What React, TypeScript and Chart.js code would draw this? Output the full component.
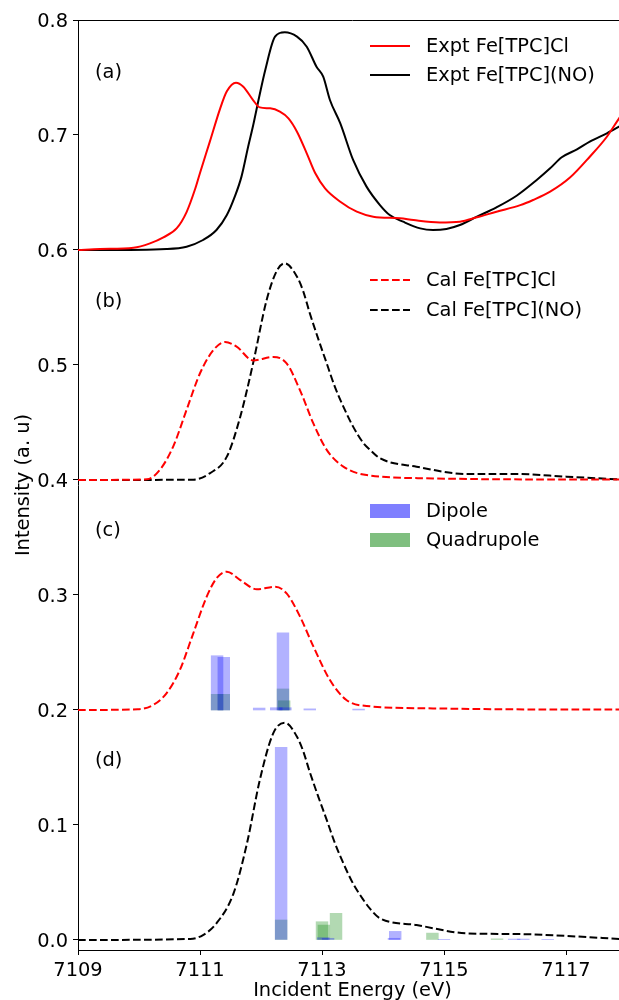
import React, { useEffect, useRef } from "react";
import { Chart, registerables } from "chart.js";
Chart.register(...registerables);

// ---------- data ----------
const exptClE = [7109, 7109.36, 7109.91, 7110.18, 7110.4, 7110.62, 7110.78, 7110.92, 7111.0, 7111.16, 7111.33, 7111.44, 7111.59, 7111.71, 7111.87, 7111.98, 7112.15, 7112.31, 7112.45, 7112.59, 7112.75, 7112.89, 7113.05, 7113.3, 7113.57, 7113.84, 7114.28, 7114.5, 7114.93, 7115.26, 7115.54, 7115.86, 7116.25, 7116.46, 7116.74, 7117.07, 7117.39, 7117.67, 7117.87, 7118];
const exptClI = [0.6, 0.6009, 0.602, 0.6058, 0.611, 0.619, 0.633, 0.653, 0.667, 0.694, 0.723, 0.738, 0.7455, 0.742, 0.7304, 0.724, 0.7232, 0.7203, 0.7145, 0.7029, 0.6841, 0.6667, 0.6536, 0.642, 0.6333, 0.629, 0.6276, 0.626, 0.624, 0.6246, 0.6284, 0.6333, 0.639, 0.6435, 0.6507, 0.6632, 0.6811, 0.6985, 0.7145, 0.724];

const exptNOE = [7109, 7109.36, 7110.45, 7110.78, 7111.05, 7111.27, 7111.44, 7111.57, 7111.68, 7111.79, 7111.87, 7111.97, 7112.07, 7112.23, 7112.39, 7112.59, 7112.75, 7112.91, 7113.02, 7113.13, 7113.3, 7113.51, 7113.73, 7113.95, 7114.11, 7114.33, 7114.61, 7114.82, 7115.04, 7115.26, 7115.54, 7115.86, 7116.19, 7116.52, 7116.74, 7116.93, 7117.18, 7117.39, 7117.67, 7117.87, 7118];
const exptNOI = [0.6, 0.6, 0.6009, 0.6029, 0.6087, 0.6174, 0.6304, 0.6464, 0.6638, 0.69, 0.708, 0.733, 0.7565, 0.7855, 0.7893, 0.7855, 0.7768, 0.7594, 0.7507, 0.7304, 0.7101, 0.6783, 0.6551, 0.6391, 0.6304, 0.6246, 0.6188, 0.6174, 0.6183, 0.6217, 0.629, 0.6371, 0.6472, 0.6609, 0.671, 0.6806, 0.6875, 0.6942, 0.7015, 0.7072, 0.711];

const calClBE = [7109, 7110.13, 7110.34, 7110.56, 7110.78, 7111.0, 7111.22, 7111.41, 7111.6, 7111.87, 7112.2, 7112.42, 7112.64, 7112.86, 7113.08, 7113.35, 7113.73, 7114.82, 7116, 7118];
const calClBI = [0.4, 0.4006, 0.4087, 0.429, 0.461, 0.4928, 0.513, 0.52, 0.516, 0.504, 0.507, 0.5014, 0.478, 0.449, 0.426, 0.4116, 0.4043, 0.4014, 0.4006, 0.4004];

const calNOBE = [7109, 7110.89, 7111.16, 7111.44, 7111.66, 7111.87, 7112.09, 7112.26, 7112.39, 7112.59, 7112.69, 7112.8, 7112.94, 7113.08, 7113.21, 7113.35, 7113.51, 7113.68, 7113.79, 7113.95, 7114.55, 7115.37, 7116.19, 7117.01, 7117.87, 7118];
const calNOBI = [0.4, 0.4003, 0.4058, 0.4203, 0.455, 0.5014, 0.556, 0.582, 0.5884, 0.5768, 0.5645, 0.545, 0.5225, 0.501, 0.4812, 0.4638, 0.4464, 0.432, 0.4261, 0.4189, 0.4116, 0.4052, 0.4052, 0.4029, 0.4006, 0.4004];

const calClCE = [7109, 7109.98, 7110.23, 7110.45, 7110.67, 7110.89, 7111.11, 7111.27, 7111.44, 7111.66, 7111.93, 7112.23, 7112.42, 7112.64, 7112.86, 7113.13, 7113.4, 7113.73, 7114.82, 7116, 7118];
const calClCI = [0.2, 0.2006, 0.2043, 0.2145, 0.2348, 0.2667, 0.2986, 0.3145, 0.3203, 0.313, 0.305, 0.3072, 0.3014, 0.2812, 0.2551, 0.226, 0.2087, 0.2035, 0.2014, 0.2006, 0.2004];

const calNODE = [7109, 7110.84, 7111.05, 7111.27, 7111.55, 7111.77, 7111.98, 7112.2, 7112.39, 7112.59, 7112.69, 7112.8, 7112.94, 7113.08, 7113.21, 7113.35, 7113.51, 7113.68, 7113.79, 7113.95, 7114.55, 7115.37, 7116.19, 7117.01, 7117.87, 7118];
const calNODI = [0.0, 0.0009, 0.0043, 0.0145, 0.0406, 0.084, 0.139, 0.1797, 0.189, 0.1768, 0.1645, 0.146, 0.1245, 0.104, 0.0845, 0.0667, 0.049, 0.0348, 0.027, 0.0189, 0.013, 0.0058, 0.0052, 0.0035, 0.0009, 0.0005];

// stick spectra (transition energies and heights above panel baseline)
const BASE_C = 0.2;
const BASE_D = 0.0;
const dipoleCE = [7111.28, 7111.39, 7111.97, 7112.25, 7112.4, 7112.36, 7112.8, 7113.6];
const dipoleCH = [0.0472, 0.0458, 0.0017, 0.002, 0.002, 0.067, 0.001, 0.0008];
const quadCE = [7111.28, 7111.39, 7112.36, 7112.38];
const quadCH = [0.0136, 0.0136, 0.0183, 0.008];

const dipoleDE = [7112.33, 7113.02, 7113.1, 7114.2, 7114.18, 7115.0, 7116.15, 7116.3, 7116.7];
const dipoleDH = [0.1676, 0.002, 0.0015, 0.0075, 0.0015, 0.0006, 0.0008, 0.0008, 0.0006];
const quadDE = [7112.33, 7113.0, 7113.03, 7113.23, 7114.81, 7115.87];
const quadDH = [0.0174, 0.0159, 0.013, 0.0232, 0.006, 0.001];

const X_TICKS = [7109, 7111, 7113, 7115, 7117];
const Y_TICKS = [0, 0.1, 0.2, 0.3, 0.4, 0.5, 0.6, 0.7, 0.8];
const PANEL_LABELS = ["(a)", "(b)", "(c)", "(d)"];
const LEGEND_A = ["Expt Fe[TPC]Cl", "Expt Fe[TPC](NO)"];
const LEGEND_B = ["Cal Fe[TPC]Cl", "Cal Fe[TPC](NO)"];
const LEGEND_C = ["Dipole", "Quadrupole"];
const X_TITLE = "Incident Energy (eV)";
const Y_TITLE = "Intensity (a. u)";

// ---------- style ----------
const FONT = "'DejaVu Sans'";
const FS = 19.4;
const RED = "#ff0000";
const BLACK = "#000000";
const DIP = "rgba(0,0,255,0.3)";
const QUAD = "rgba(0,128,0,0.3)";
const DIP_LEG = "rgba(0,0,255,0.5)";
const QUAD_LEG = "rgba(0,128,0,0.5)";
const DASH = [7.7, 3.3];

const pts = (xs: number[], ys: number[]) => xs.map((x, i) => ({ x, y: ys[i] }));
const sticks = (xs: number[], hs: number[], base: number) =>
  xs.map((x, i) => ({ x, y: [base, base + hs[i]] }));

const annotPlugin = {
  id: "annot",
  afterDraw(chart: any) {
    const { ctx, chartArea: ca } = chart;
    ctx.save();
    // top spine
    ctx.strokeStyle = "#000";
    ctx.lineWidth = 1;
    ctx.beginPath();
    ctx.moveTo(ca.left, ca.top + 0.5);
    ctx.lineTo(ca.right, ca.top + 0.5);
    ctx.stroke();

    ctx.font = `${FS}px ${FONT}`;
    ctx.fillStyle = "#000";
    ctx.textBaseline = "middle";
    ctx.textAlign = "left";
    const labelY = [53, 282, 511, 741];
    PANEL_LABELS.forEach((t, i) => ctx.fillText(t, ca.left + 17, ca.top + labelY[i]));

    const hx0 = 370, hx1 = 410, tx = 426;
    const line = (y: number, color: string, dash: number[]) => {
      ctx.save();
      ctx.strokeStyle = color;
      ctx.lineWidth = 2;
      ctx.setLineDash(dash);
      ctx.beginPath();
      ctx.moveTo(hx0, y);
      ctx.lineTo(hx1, y);
      ctx.stroke();
      ctx.restore();
    };
    // legend (a)
    line(46, RED, []);
    ctx.fillText(LEGEND_A[0], tx, 47);
    line(75, BLACK, []);
    ctx.fillText(LEGEND_A[1], tx, 76);
    // legend (b)
    line(280, RED, DASH);
    ctx.fillText(LEGEND_B[0], tx, 281);
    line(310, BLACK, DASH);
    ctx.fillText(LEGEND_B[1], tx, 311);
    // legend (c)
    ctx.fillStyle = DIP_LEG;
    ctx.fillRect(hx0, 504, hx1 - hx0, 14);
    ctx.fillStyle = QUAD_LEG;
    ctx.fillRect(hx0, 533, hx1 - hx0, 14);
    ctx.fillStyle = "#000";
    ctx.fillText(LEGEND_C[0], tx, 512);
    ctx.fillText(LEGEND_C[1], tx, 541);
    ctx.restore();
  },
};

export default function App() {
  const ref = useRef<HTMLCanvasElement | null>(null);
  useEffect(() => {
    if (!ref.current) return;
    Chart.defaults.font.family = FONT;
    Chart.defaults.font.size = FS;
    Chart.defaults.color = "#000";
    const lineDs = (label: string, data: any, color: string, dash: number[]) => ({
      type: "line" as const,
      label,
      data,
      borderColor: color,
      backgroundColor: color,
      borderWidth: 2,
      borderDash: dash,
      pointRadius: 0,
      cubicInterpolationMode: "monotone" as const,
      fill: false,
      order: 1,
    });
    const barDs = (label: string, data: any, color: string) => ({
      type: "bar" as const,
      label,
      data,
      backgroundColor: color,
      borderWidth: 0,
      barThickness: 11.8,
      grouped: false,
      order: 2,
    });
    const chart = new Chart(ref.current, {
      type: "line",
      data: {
        datasets: [
          barDs("Dipole (c)", sticks(dipoleCE, dipoleCH, BASE_C), DIP),
          barDs("Quadrupole (c)", sticks(quadCE, quadCH, BASE_C), QUAD),
          barDs("Dipole (d)", sticks(dipoleDE, dipoleDH, BASE_D), DIP),
          barDs("Quadrupole (d)", sticks(quadDE, quadDH, BASE_D), QUAD),
          lineDs(LEGEND_A[0], pts(exptClE, exptClI), RED, []),
          lineDs(LEGEND_A[1], pts(exptNOE, exptNOI), BLACK, []),
          lineDs(LEGEND_B[0], pts(calClBE, calClBI), RED, DASH),
          lineDs(LEGEND_B[1], pts(calNOBE, calNOBI), BLACK, DASH),
          lineDs("Cal Fe[TPC]Cl (c)", pts(calClCE, calClCI), RED, DASH),
          lineDs("Cal Fe[TPC](NO) (d)", pts(calNODE, calNODI), BLACK, DASH),
        ] as any,
      },
      options: {
        responsive: false,
        animation: false,
        devicePixelRatio: 1,
        layout: { padding: { top: 20, right: 13, left: 0, bottom: 0 } },
        plugins: { legend: { display: false }, tooltip: { enabled: false } },
        scales: {
          x: {
            type: "linear",
            min: 7109,
            max: 7118,
            offset: false,
            afterBuildTicks: (s: any) => {
              s.ticks = X_TICKS.map((v) => ({ value: v }));
            },
            afterFit: (s: any) => {
              s.height = 50;
            },
            ticks: { padding: 4.6, maxRotation: 0, autoSkip: false, callback: (v: any) => String(v) },
            grid: { offset: false, drawOnChartArea: false, drawTicks: true, tickLength: 5, color: "#000", lineWidth: 1 },
            border: { display: true, color: "#000", width: 1 },
            title: { display: true, text: X_TITLE, padding: { top: 0, bottom: -2.6 } },
          },
          y: {
            type: "linear",
            min: -0.0087,
            max: 0.8,
            afterBuildTicks: (s: any) => {
              s.ticks = Y_TICKS.map((v) => ({ value: v }));
            },
            afterFit: (s: any) => {
              s.width = 78;
            },
            ticks: { padding: 5, labelOffset: 2, autoSkip: false, callback: (v: any) => Number(v).toFixed(1) },
            grid: { offset: false, drawOnChartArea: false, drawTicks: true, tickLength: 5, color: "#000", lineWidth: 1 },
            border: { display: true, color: "#000", width: 1 },
            title: { display: true, text: Y_TITLE, padding: { top: 12, bottom: 0 } },
          },
        },
      },
      plugins: [annotPlugin],
    });
    return () => chart.destroy();
  }, []);
  return (
    <div style={{ position: "fixed", left: 0, top: 0, width: 619, height: 1000, overflow: "hidden", background: "#fff" }}>
      <canvas ref={ref} width={640} height={1000} style={{ display: "block", width: 640, height: 1000 }} />
    </div>
  );
}
